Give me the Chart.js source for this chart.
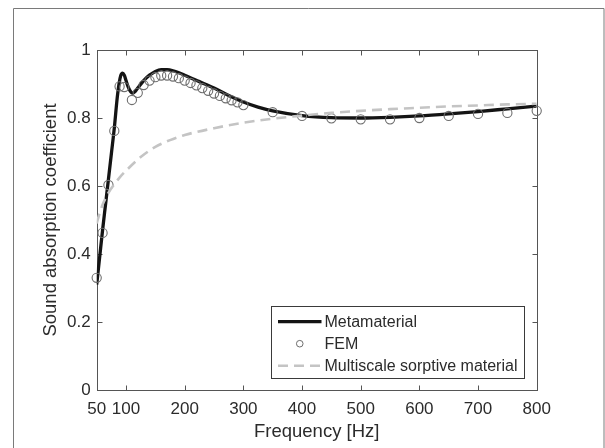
<!DOCTYPE html>
<html><head><meta charset="utf-8">
<script src="https://cdn.jsdelivr.net/npm/chart.js@4/dist/chart.umd.min.js"></script>
<style>html,body{margin:0;padding:0;background:#fff;}#wrap{width:605px;height:448px;position:relative;}</style>
</head><body><div id="wrap"><canvas id="c" width="605" height="448"></canvas></div>
<script>
// ---- data ----
const xTickValues = [50, 100, 200, 300, 400, 500, 600, 700, 800];
const yTickValues = [0, 0.2, 0.4, 0.6, 0.8, 1];

const metaFreq = [50, 55, 60, 65, 70, 75, 80, 85, 88, 91, 94, 97, 100, 104, 108, 111, 115, 120, 130, 140, 150, 160, 170, 180, 200, 225, 250, 275, 300, 325, 350, 400, 450, 500, 550, 600, 650, 700, 750, 800];
const metaAbs  = [0.31, 0.39, 0.47, 0.545, 0.62, 0.695, 0.77, 0.86, 0.90, 0.925, 0.932, 0.926, 0.91, 0.89, 0.877, 0.873, 0.877, 0.888, 0.91, 0.926, 0.937, 0.942, 0.942, 0.939, 0.926, 0.907, 0.888, 0.866, 0.847, 0.832, 0.821, 0.807, 0.801, 0.800, 0.802, 0.806, 0.812, 0.819, 0.827, 0.835];

const femFreq = [50, 60, 70, 80, 89, 97, 110, 120, 130, 140, 150, 160, 170, 180, 190, 200, 210, 220, 230, 240, 250, 260, 270, 280, 290, 300, 350, 400, 450, 500, 550, 600, 650, 700, 750, 800];
const femAbs  = [0.33, 0.462, 0.603, 0.762, 0.893, 0.891, 0.853, 0.874, 0.897, 0.91, 0.92, 0.925, 0.925, 0.922, 0.917, 0.91, 0.903, 0.896, 0.888, 0.88, 0.872, 0.865, 0.858, 0.852, 0.846, 0.838, 0.817, 0.806, 0.799, 0.796, 0.796, 0.800, 0.806, 0.812, 0.815, 0.821];

const msFreq = [50, 55, 60, 70, 80, 90, 100, 125, 150, 175, 200, 250, 300, 350, 400, 450, 500, 550, 600, 650, 700, 750, 800];
const msAbs  = [0.49, 0.52, 0.545, 0.58, 0.605, 0.627, 0.645, 0.685, 0.715, 0.735, 0.75, 0.77, 0.786, 0.798, 0.807, 0.815, 0.821, 0.826, 0.830, 0.834, 0.837, 0.840, 0.842];

const seriesLabels = ['Metamaterial', 'FEM', 'Multiscale sorptive material'];

const toXY = (xs, ys) => xs.map((x, i) => ({x: x, y: ys[i]}));
const FONT = '"Liberation Sans", Arial, Helvetica, sans-serif';
const TXT = '#2b2b2b';
const AX = '#555555';

const frameAndBox = {
  id: 'frameAndBox',
  beforeDatasetsDraw(chart) {
    const ctx = chart.ctx, a = chart.chartArea;
    const xs = chart.scales.x, ys = chart.scales.y;
    ctx.save();
    ctx.strokeStyle = '#7a7a7a'; ctx.lineWidth = 1;
    ctx.beginPath();
    ctx.moveTo(13.5, 448); ctx.lineTo(13.5, 8.5); ctx.lineTo(604, 8.5); ctx.lineTo(604, 448);
    ctx.stroke();
    ctx.strokeStyle = AX;
    const L = Math.round(a.left) + 0.5, R = Math.round(a.right) + 0.5;
    const T = Math.round(a.top) + 0.5, B = Math.round(a.bottom) + 0.5;
    ctx.strokeRect(L, T, R - L, B - T);
    ctx.beginPath();
    xTickValues.forEach(v => {
      const p = Math.round(xs.getPixelForValue(v)) + 0.5;
      ctx.moveTo(p, B); ctx.lineTo(p, B - 5);
      ctx.moveTo(p, T); ctx.lineTo(p, T + 5);
    });
    yTickValues.forEach(v => {
      const p = Math.round(ys.getPixelForValue(v)) + 0.5;
      ctx.moveTo(L, p); ctx.lineTo(L + 5, p);
      ctx.moveTo(R, p); ctx.lineTo(R - 5, p);
    });
    ctx.stroke();
    ctx.restore();
  }
};

const legendBox = {
  id: 'legendBox',
  afterDatasetsDraw(chart) {
    const ctx = chart.ctx;
    const ds = chart.data.datasets;
    ctx.save();
    const bx = 271.5, by = 306.5, bw = 253, bh = 72;
    ctx.fillStyle = '#ffffff';
    ctx.fillRect(bx, by, bw, bh);
    ctx.strokeStyle = '#3a3a3a'; ctx.lineWidth = 1;
    ctx.strokeRect(bx, by, bw, bh);
    const rows = [321.7, 343.7, 365.7];
    const x0 = 278, x1 = 321.5;
    ds.forEach((d, i) => {
      const y = rows[i];
      if (d.showLine === false) {
        ctx.beginPath();
        ctx.arc((x0 + x1) / 2, y, 3.3, 0, Math.PI * 2);
        ctx.strokeStyle = d.borderColor; ctx.lineWidth = 1;
        ctx.stroke();
      } else {
        ctx.beginPath();
        ctx.setLineDash(d.borderDash || []);
        ctx.strokeStyle = d.borderColor; ctx.lineWidth = d.borderWidth;
        ctx.moveTo(x0, y); ctx.lineTo(x1, y);
        ctx.stroke();
        ctx.setLineDash([]);
      }
      ctx.fillStyle = TXT;
      ctx.font = '16px ' + FONT;
      ctx.textBaseline = 'middle';
      ctx.textAlign = 'left';
      ctx.fillText(d.label, 324.5, y + 0.5);
    });
    ctx.restore();
  }
};

new Chart(document.getElementById('c'), {
  type: 'line',
  data: {
    datasets: [
      {
        label: seriesLabels[0],
        data: toXY(metaFreq, metaAbs),
        borderColor: '#141414', borderWidth: 3.3,
        pointRadius: 0, cubicInterpolationMode: 'monotone',
        fill: false, order: 3
      },
      {
        label: seriesLabels[1],
        data: toXY(femFreq, femAbs),
        showLine: false,
        borderColor: '#6e6e6e', backgroundColor: 'rgba(0,0,0,0)',
        pointRadius: 4.6, pointBorderWidth: 1.1, pointStyle: 'circle',
        clip: false, order: 2
      },
      {
        label: seriesLabels[2],
        data: toXY(msFreq, msAbs),
        borderColor: '#c4c4c4', borderWidth: 2.6, borderDash: [10, 6],
        pointRadius: 0, cubicInterpolationMode: 'monotone',
        fill: false, order: 1
      }
    ]
  },
  options: {
    responsive: false, animation: false, devicePixelRatio: 1,
    layout: { padding: { left: 0, top: 50, right: 68.3, bottom: 0 } },
    plugins: { legend: { display: false }, tooltip: { enabled: false } },
    scales: {
      x: {
        type: 'linear', min: 50, max: 800,
        afterBuildTicks(s) { s.ticks = xTickValues.map(v => ({ value: v })); },
        afterFit(s) { s.height = 58; },
        grid: { display: false, drawTicks: false }, border: { display: false },
        ticks: { color: TXT, font: { family: FONT, size: 17 }, padding: 9.5, maxRotation: 0, autoSkip: false,
                 callback: v => String(+Number(v).toFixed(2)) },
        title: { display: true, text: 'Frequency [Hz]', color: TXT, font: { family: FONT, size: 18.5 }, padding: { top: 0, bottom: 5 } }
      },
      y: {
        type: 'linear', min: 0, max: 1,
        afterBuildTicks(s) { s.ticks = yTickValues.map(v => ({ value: v })); },
        afterFit(s) { s.width = 96.7; },
        grid: { display: false, drawTicks: false }, border: { display: false },
        ticks: { color: TXT, font: { family: FONT, size: 17 }, padding: 6,
                 callback: v => String(+Number(v).toFixed(2)) },
        title: { display: true, text: 'Sound absorption coefficient', color: TXT, font: { family: FONT, size: 18.5 }, padding: { top: 39.5, bottom: 0 } }
      }
    }
  },
  plugins: [frameAndBox, legendBox]
});
</script>
</body></html>
